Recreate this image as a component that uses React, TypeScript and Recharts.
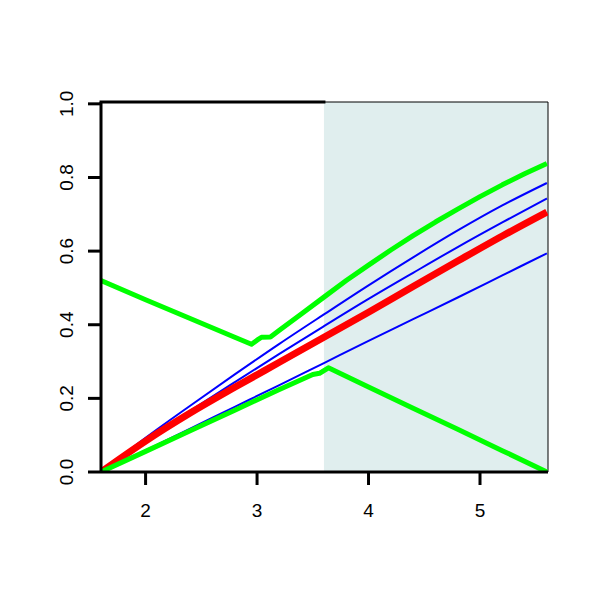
import React from 'react';
import { LineChart, Line, XAxis, YAxis, ReferenceArea, ReferenceLine } from 'recharts';

// common grid for the smooth curves
const gridX = [1.6, 2.0, 2.4, 2.8, 3.2, 3.6, 4.0, 4.4, 4.8, 5.2, 5.6];
const redY = [0, 0.084, 0.16, 0.23, 0.298, 0.366, 0.434, 0.504, 0.573, 0.641, 0.706];
const blueTopY = [0, 0.093, 0.18, 0.265, 0.348, 0.428, 0.507, 0.583, 0.656, 0.724, 0.785];
const blueMidY = [0, 0.086, 0.166, 0.244, 0.321, 0.396, 0.47, 0.541, 0.611, 0.678, 0.743];
const blueLowY = [0, 0.059, 0.118, 0.177, 0.236, 0.296, 0.356, 0.415, 0.474, 0.534, 0.594];

// green envelope lines (with kinks)
const greenUpX = [1.6, 2.0, 2.4, 2.8, 2.95, 3.0, 3.04, 3.12, 3.2, 3.4, 3.6, 3.8, 4.0, 4.2, 4.4, 4.6, 4.8, 5.0, 5.2, 5.4, 5.6];
const greenUpY = [0.52, 0.468, 0.417, 0.366, 0.347, 0.358, 0.366, 0.367, 0.385, 0.43, 0.475, 0.52, 0.562, 0.603, 0.642, 0.679, 0.714, 0.748, 0.78, 0.81, 0.838];
const greenLowX = [1.6, 2.0, 2.4, 2.8, 3.2, 3.5, 3.56, 3.64, 4.0, 4.4, 4.8, 5.2, 5.6];
const greenLowY = [0, 0.056, 0.112, 0.168, 0.224, 0.265, 0.268, 0.283, 0.231, 0.173, 0.116, 0.058, 0];

const xTicks = [2, 3, 4, 5];
const yTicks = [0, 0.2, 0.4, 0.6, 0.8, 1.0];

const shadeFrom = 3.6;
const xMin = 1.6;
const xMax = 5.61;
const yMax = 1.005;

const pts = (xs: number[], ys: number[]) => xs.map((x, i) => ({ x, y: ys[i] }));

const font = "'Liberation Sans', Arial, Helvetica, sans-serif";

const XTick = ({ x, y, payload }: any) => (
  <text x={x} y={y + 30} textAnchor="middle" fontFamily={font} fontSize={19} fill="#000">
    {payload.value}
  </text>
);

const YTick = ({ x, y, payload }: any) => (
  <text
    transform={`translate(${x - 13}, ${y}) rotate(-90)`}
    textAnchor="middle"
    fontFamily={font}
    fontSize={19}
    fill="#000"
  >
    {Number(payload.value).toFixed(1)}
  </text>
);

export default function App() {
  return (
    <div style={{ position: 'absolute', left: 0, top: 0, background: '#fff' }}>
      <LineChart width={600} height={600} margin={{ top: 102, right: 52, left: 0, bottom: 0 }}>
        <ReferenceArea
          x1={shadeFrom}
          x2={xMax}
          y1={0}
          y2={yMax}
          fill="#E0EEEE"
          fillOpacity={1}
          stroke="none"
        />
        <XAxis
          dataKey="x"
          type="number"
          domain={[xMin, xMax]}
          ticks={xTicks}
          height={128}
          tickSize={13}
          axisLine={{ stroke: '#000', strokeWidth: 3 }}
          tickLine={{ stroke: '#000', strokeWidth: 3 }}
          tick={<XTick />}
          allowDataOverflow
        />
        <YAxis
          type="number"
          domain={[0, yMax]}
          ticks={yTicks}
          width={101}
          tickSize={13}
          axisLine={{ stroke: '#000', strokeWidth: 3 }}
          tickLine={{ stroke: '#000', strokeWidth: 3 }}
          tick={<YTick />}
          allowDataOverflow
        />
        <ReferenceLine
          segment={[{ x: xMin, y: yMax }, { x: shadeFrom, y: yMax }]}
          stroke="#000"
          strokeWidth={3}
          strokeLinecap="square"
        />
        <ReferenceLine
          segment={[{ x: shadeFrom, y: yMax }, { x: xMax, y: yMax }]}
          stroke="#000"
          strokeWidth={1}
        />
        <ReferenceLine x={xMax} stroke="#000" strokeWidth={1} />
        <Line data={pts(gridX, blueTopY)} dataKey="y" type="monotone" stroke="#0000FF" strokeWidth={2} dot={false} isAnimationActive={false} />
        <Line data={pts(gridX, blueMidY)} dataKey="y" type="monotone" stroke="#0000FF" strokeWidth={2} dot={false} isAnimationActive={false} />
        <Line data={pts(gridX, blueLowY)} dataKey="y" type="monotone" stroke="#0000FF" strokeWidth={2} dot={false} isAnimationActive={false} />
        <Line data={pts(gridX, redY)} dataKey="y" type="monotone" stroke="#FF0000" strokeWidth={7} dot={false} isAnimationActive={false} />
        <Line data={pts(greenUpX, greenUpY)} dataKey="y" type="linear" stroke="#00FF00" strokeWidth={5} strokeLinejoin="round" dot={false} isAnimationActive={false} />
        <Line data={pts(greenLowX, greenLowY)} dataKey="y" type="linear" stroke="#00FF00" strokeWidth={5} strokeLinejoin="round" dot={false} isAnimationActive={false} />
      </LineChart>
    </div>
  );
}
